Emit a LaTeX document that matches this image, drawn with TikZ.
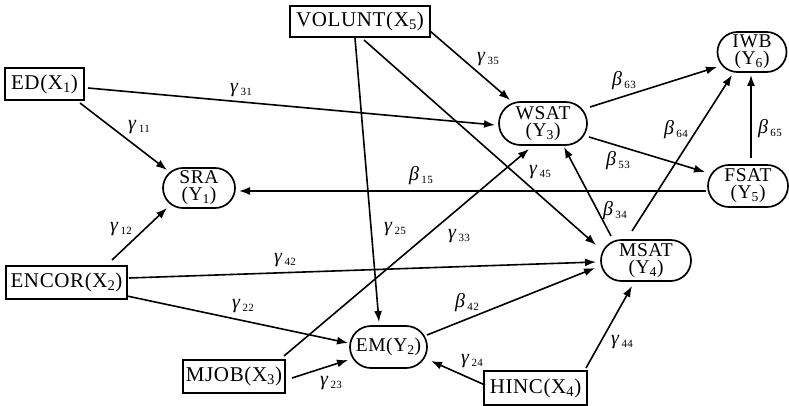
\documentclass[tikz,border=0pt]{standalone}
\usepackage{fontspec}
\setmainfont{Liberation Serif}[LetterSpace=3]
\usetikzlibrary{shapes.misc,arrows.meta,calc}
\newcommand\glab[2]{{\fontsize{20}{20}\selectfont\textit{#1}}\,\raisebox{-3pt}{\fontsize{11}{11}\selectfont #2}}
\begin{document}
\begin{tikzpicture}[x=1pt,y=-1pt,
  boxnode/.style={draw, line width=1.7pt, rectangle, inner sep=0pt, font=\fontsize{21}{21}\selectfont},
  ovalnode/.style={draw, line width=1.7pt, rounded rectangle, inner sep=0pt, align=center, font=\fontsize{19.5}{17}\selectfont},
  conn/.style={line width=1.6pt, -{Latex[length=11pt,width=8pt]}},
  lab/.style={inner sep=0pt}]
\useasboundingbox[fill=white] (0,0) rectangle (789,406);

% exogenous boxes
\node[boxnode, minimum width=79pt, minimum height=32pt] (ED) at (44.5,84) {ED(X\textsubscript{1})};
\node[boxnode, minimum width=140pt, minimum height=31pt] (VOL) at (360,21.5) {VOLUNT(X\textsubscript{5})};
\node[boxnode, minimum width=121pt, minimum height=33pt] (ENCOR) at (66.5,282.5) {ENCOR(X\textsubscript{2})};
\node[boxnode, minimum width=102pt, minimum height=33pt] (MJOB) at (234,376.5) {MJOB(X\textsubscript{3})};
\node[boxnode, minimum width=103pt, minimum height=34pt] (HINC) at (535.5,388) {HINC(X\textsubscript{4})};

% endogenous ovals
\node[ovalnode, minimum width=88pt, minimum height=43pt] (WSAT) at (543,123.5) {WSAT\\(Y\textsubscript{3})};
\node[ovalnode, minimum width=69pt, minimum height=40pt] (IWB) at (752,52) {IWB\\(Y\textsubscript{6})};
\node[ovalnode, minimum width=80pt, minimum height=42pt] (FSAT) at (748,186) {FSAT\\(Y\textsubscript{5})};
\node[ovalnode, minimum width=72pt, minimum height=40pt] (SRA) at (199,188) {SRA\\(Y\textsubscript{1})};
\node[ovalnode, minimum width=77pt, minimum height=42pt] (EM) at (388.5,347) {EM(Y\textsubscript{2})};
\node[ovalnode, minimum width=90pt, minimum height=41pt] (MSAT) at (646,260.5) {MSAT\\(Y\textsubscript{4})};

% connectors
\draw[conn] ($(ED.center)+(43.5,4)$) -- ($(WSAT.center)+(-48,1.5)$);
\draw[conn] ($(ED.center)+(35.5,19)$) -- ($(SRA.center)+(-32,-18)$);
\draw[conn] ($(VOL.center)+(70,9.5)$) -- ($(WSAT.center)+(-33,-23.5)$);
\draw[conn] ($(VOL.center)+(-5,16.5)$) -- ($(EM.center)+(-9.5,-25)$);
\draw[conn] ($(VOL.center)+(4,18.5)$) -- ($(MSAT.center)+(-50,-15.5)$);
\draw[conn] ($(WSAT.center)+(47,-16.5)$) -- ($(IWB.center)+(-35,15)$);
\draw[conn] ($(WSAT.center)+(46,13.5)$) -- ($(FSAT.center)+(-43,-14)$);
\draw[conn] ($(FSAT.center)+(-42,5)$) -- ($(SRA.center)+(40,3)$);
\draw[conn] ($(FSAT.center)+(3,-28)$) -- ($(IWB.center)+(-1,23)$);
\draw[conn] ($(MSAT.center)+(-35,-24.5)$) -- ($(WSAT.center)+(21,23.5)$);
\draw[conn] ($(MSAT.center)+(-14,-29.5)$) -- ($(IWB.center)+(-20,23)$);
\draw[conn] ($(ENCOR.center)+(45.5,-22.5)$) -- ($(SRA.center)+(-32,20)$);
\draw[conn] ($(ENCOR.center)+(62.5,-4.5)$) -- ($(MSAT.center)+(-50,1.5)$);
\draw[conn] ($(ENCOR.center)+(60.5,13.5)$) -- ($(EM.center)+(-40.5,-4)$);
\draw[conn] ($(MJOB.center)+(50,-20.5)$) -- ($(WSAT.center)+(-14,25.5)$);
\draw[conn] ($(MJOB.center)+(58,1.5)$) -- ($(EM.center)+(-40.5,13)$);
\draw[conn] ($(EM.center)+(38.5,-12)$) -- ($(MSAT.center)+(-51,7.5)$);
\draw[conn] ($(HINC.center)+(-50.5,-3)$) -- ($(EM.center)+(42.5,14)$);
\draw[conn] ($(HINC.center)+(50.5,-20)$) -- ($(MSAT.center)+(-14,25.5)$);

% labels
\node[lab] (l31) at (241,90) {\glab{γ}{31}};
\node[lab] (l11) at (139,127) {\glab{γ}{11}};
\node[lab] (l35) at (488,59) {\glab{γ}{35}};
\node[lab] (l63) at (624,81) {\glab{β}{63}};
\node[lab] (l64) at (676,130) {\glab{β}{64}};
\node[lab] (l65) at (770,129) {\glab{β}{65}};
\node[lab] (l53) at (618,161) {\glab{β}{53}};
\node[lab] (l15) at (421,176) {\glab{β}{15}};
\node[lab] (l45) at (540,172) {\glab{γ}{45}};
\node[lab] (l34) at (615,211) {\glab{β}{34}};
\node[lab] (l12) at (121,229) {\glab{γ}{12}};
\node[lab] (l42) at (285,260) {\glab{γ}{42}};
\node[lab] (l22) at (243,306) {\glab{γ}{22}};
\node[lab] (l25) at (395,229) {\glab{γ}{25}};
\node[lab] (l33) at (459,236) {\glab{γ}{33}};
\node[lab] (b42) at (467,303) {\glab{β}{42}};
\node[lab] (l23) at (331,383) {\glab{γ}{23}};
\node[lab] (l24) at (472,361) {\glab{γ}{24}};
\node[lab] (l44) at (622,342) {\glab{γ}{44}};
\end{tikzpicture}
\end{document}
